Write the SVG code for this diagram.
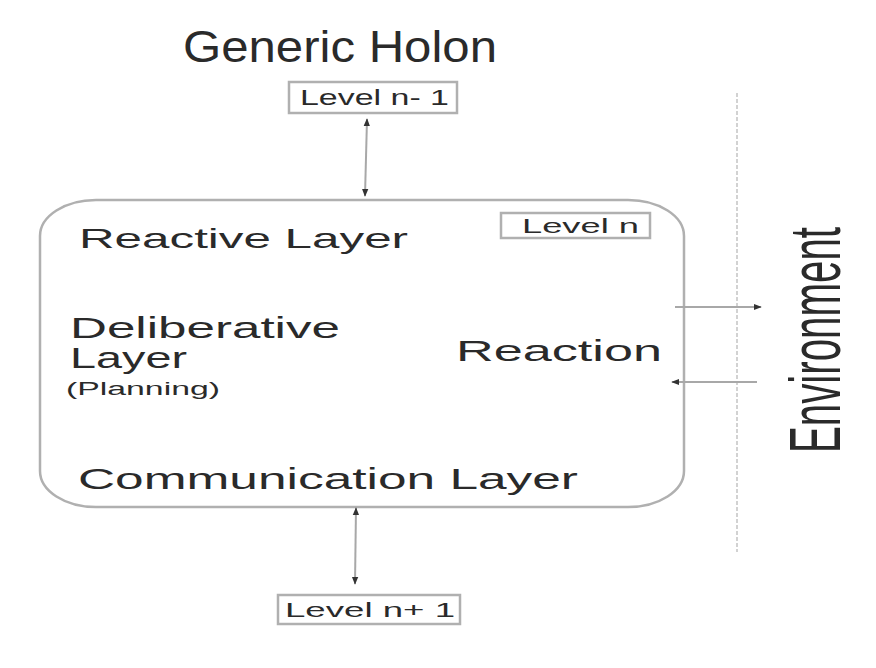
<svg xmlns="http://www.w3.org/2000/svg" width="876" height="668" viewBox="0 0 876 668">
<style>
.t{font-family:"Liberation Sans",Arial,sans-serif;fill:#2a2a2a;}
.box{fill:#fff;stroke:#b0b0b0;stroke-width:2.5;}
.ln{stroke:#a8a8a8;stroke-width:2;fill:none;}
</style>
<defs>
<marker id="ah" viewBox="0 0 10 10" refX="9" refY="5" markerWidth="4" markerHeight="4" orient="auto-start-reverse">
<path d="M0,1 L10,5 L0,9 z" fill="#333"/>
</marker>
</defs>
<rect width="876" height="668" fill="#fff"/>
<text class="t" x="183" y="62" font-size="44" textLength="314" lengthAdjust="spacingAndGlyphs">Generic Holon</text>
<g id="holon">
<rect class="box" x="40" y="200" width="644" height="307" rx="56" ry="36"/>
<text class="t" x="79" y="248" font-size="28" textLength="329" lengthAdjust="spacingAndGlyphs">Reactive Layer</text>
<text class="t" x="70" y="338" font-size="29" textLength="270" lengthAdjust="spacingAndGlyphs">Deliberative</text>
<text class="t" x="70" y="368" font-size="29" textLength="117" lengthAdjust="spacingAndGlyphs">Layer</text>
<text class="t" x="66" y="395" font-size="18" textLength="154" lengthAdjust="spacingAndGlyphs">(Planning)</text>
<text class="t" x="456" y="361" font-size="29" textLength="206" lengthAdjust="spacingAndGlyphs">Reaction</text>
<text class="t" x="78" y="489" font-size="29" textLength="500" lengthAdjust="spacingAndGlyphs">Communication Layer</text>
</g>
<g id="level-n">
<rect class="box" x="501" y="213" width="149" height="25"/>
<text class="t" x="522" y="233" font-size="20" textLength="117" lengthAdjust="spacingAndGlyphs">Level n</text>
</g>
<g id="level-n-minus-1">
<rect class="box" x="289" y="82" width="168" height="31"/>
<text class="t" x="300" y="105" font-size="22" textLength="149" lengthAdjust="spacingAndGlyphs">Level n- 1</text>
</g>
<g id="level-n-plus-1">
<rect class="box" x="278" y="595" width="182" height="29"/>
<text class="t" x="285" y="617" font-size="21" textLength="170" lengthAdjust="spacingAndGlyphs">Level n+ 1</text>
</g>
<g id="environment">
<line x1="737" y1="93" x2="737" y2="552" stroke="#c4c4c4" stroke-width="1.5" stroke-dasharray="4 2"/>
<text class="t" transform="translate(840 453) rotate(-90)" x="0" y="0" font-size="72" textLength="226" lengthAdjust="spacingAndGlyphs" fill="#222">Environment</text>
</g>
<g id="connectors">
<line class="ln" x1="367" y1="119" x2="365" y2="196" marker-start="url(#ah)" marker-end="url(#ah)"/>
<line class="ln" x1="356" y1="508" x2="355" y2="584" marker-start="url(#ah)" marker-end="url(#ah)"/>
<line class="ln" x1="675" y1="307" x2="761" y2="307" marker-end="url(#ah)"/>
<line class="ln" x1="757" y1="382" x2="672" y2="382" marker-end="url(#ah)"/>
</g>
</svg>
